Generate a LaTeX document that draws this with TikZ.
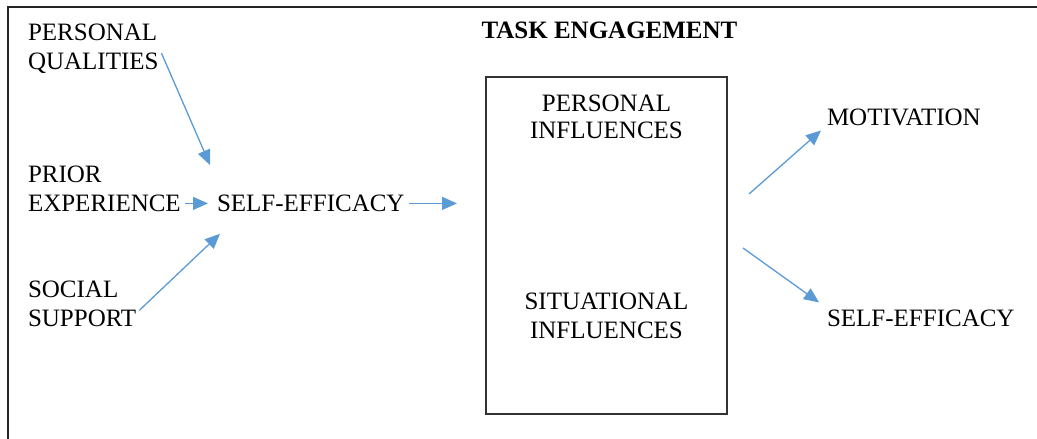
\documentclass[tikz,border=0pt]{standalone}
\usepackage{fontspec}
\setmainfont{Liberation Serif}
\usetikzlibrary{arrows.meta,calc}
\definecolor{arrowblue}{HTML}{5B9BD5}
\begin{document}
\begin{tikzpicture}[x=1pt,y=-1pt,
  lbl/.style={inner sep=0pt, outer sep=0pt, align=left,
    font=\fontsize{25}{29}\selectfont, anchor=north west},
  ctr/.style={lbl, align=center, anchor=north},
  arr/.style={draw=arrowblue, line width=1.3pt,
    -{Triangle[length=15pt,width=13pt]}},
  frame/.style={line width=2pt, draw=black!85}]
\useasboundingbox (0,0) rectangle (1037,439);
% outer frame (top and left edges)
\draw[frame] (1040,7) -- (8,7) -- (8,442);

% central box
\node[draw=black!80, line width=1.2pt, minimum width=241pt, minimum height=337pt,
  inner sep=0pt, outer sep=0pt, anchor=north west] (box) at (486,77) {};
\node[lbl, font=\fontsize{25}{29}\selectfont\bfseries, anchor=north] (title) at (609.5,22) {TASK ENGAGEMENT};
\node[ctr, font=\fontsize{25}{27}\selectfont] (pinf) at (606.5,95) {PERSONAL\\INFLUENCES};
\node[ctr] (sinf) at (606.5,293) {SITUATIONAL\\INFLUENCES};

% sources
\node[lbl] (pq) at (28,24) {PERSONAL\\QUALITIES};
\node[lbl] (pe) at (28,166) {PRIOR\\EXPERIENCE};
\node[lbl] (ss) at (28,281) {SOCIAL\\SUPPORT};
\node[lbl] (se) at (217,195) {SELF-EFFICACY};

% outcomes
\node[lbl] (mo) at (827,109) {MOTIVATION};
\node[lbl] (se2) at (827,310) {SELF-EFFICACY};

% connectors
\draw[arr] ($(pq.east)+(3,4.5)$) -- ($(se.north west)+(-7,-30)$);
\draw[arr] ($(pe.east |- se.west)+(4,0)$) -- ($(se.west)+(-9,0)$);
\draw[arr] ($(ss.east)+(3,6.5)$) -- ($(se.south west)+(3,22)$);
\draw[arr] ($(se.east)+(4,0)$) -- ($(se.east -| box.west)+(-29,0)$);
\draw[arr] ($(box.east)+(22,-51.5)$) -- ($(mo.west)+(-6,13)$);
\draw[arr] ($(box.east)+(16,2.5)$) -- ($(se2.west)+(-8,-16)$);
\end{tikzpicture}
\end{document}
